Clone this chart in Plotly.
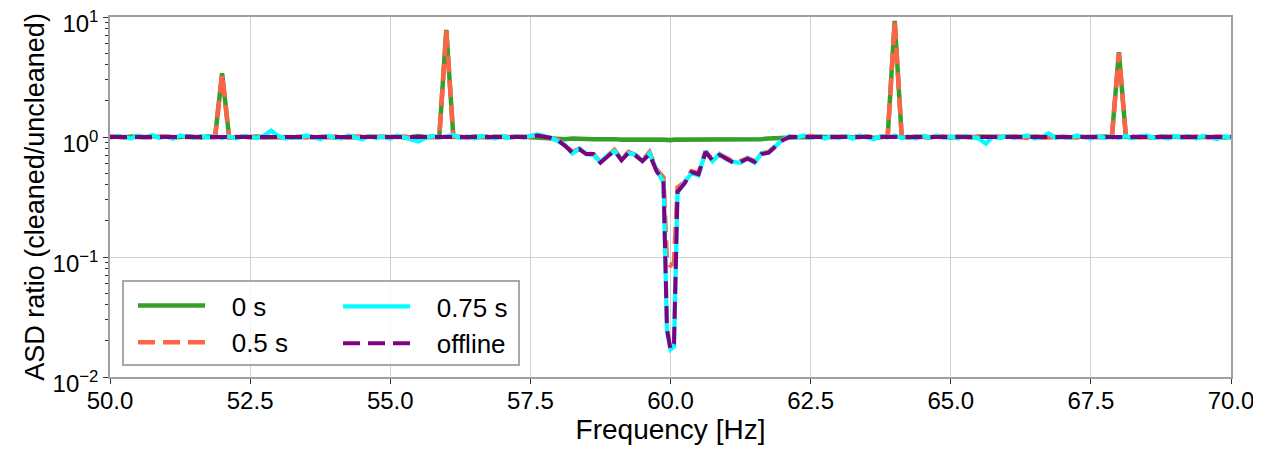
import plotly.graph_objects as go

freqs = [
    50.0, 50.125, 50.25, 50.375, 50.5, 50.625, 50.75, 50.875,
    51.0, 51.125, 51.25, 51.375, 51.5, 51.625, 51.75, 51.875,
    52.0, 52.125, 52.25, 52.375, 52.5, 52.625, 52.75, 52.875,
    53.0, 53.125, 53.25, 53.375, 53.5, 53.625, 53.75, 53.875,
    54.0, 54.125, 54.25, 54.375, 54.5, 54.625, 54.75, 54.875,
    55.0, 55.125, 55.25, 55.375, 55.5, 55.625, 55.75, 55.875,
    56.0, 56.125, 56.25, 56.375, 56.5, 56.625, 56.75, 56.875,
    57.0, 57.125, 57.25, 57.375, 57.5, 57.625, 57.75, 57.875,
    58.0, 58.125, 58.25, 58.375, 58.5, 58.625, 58.75, 58.875,
    59.0, 59.125, 59.25, 59.375, 59.5, 59.625, 59.75, 59.875, 59.9375,
    60.0, 60.0625, 60.125, 60.25, 60.375, 60.5, 60.625, 60.75, 60.875,
    61.0, 61.125, 61.25, 61.375, 61.5, 61.625, 61.75, 61.875,
    62.0, 62.125, 62.25, 62.375, 62.5, 62.625, 62.75, 62.875,
    63.0, 63.125, 63.25, 63.375, 63.5, 63.625, 63.75, 63.875,
    64.0, 64.125, 64.25, 64.375, 64.5, 64.625, 64.75, 64.875,
    65.0, 65.125, 65.25, 65.375, 65.5, 65.625, 65.75, 65.875,
    66.0, 66.125, 66.25, 66.375, 66.5, 66.625, 66.75, 66.875,
    67.0, 67.125, 67.25, 67.375, 67.5, 67.625, 67.75, 67.875,
    68.0, 68.125, 68.25, 68.375, 68.5, 68.625, 68.75, 68.875,
    69.0, 69.125, 69.25, 69.375, 69.5, 69.625, 69.75, 69.875,
    70.0,
]

ratio_0s = [
    1.00, 1.01, 0.99, 1.01, 1.00, 0.99, 1.02, 1.00,
    1.01, 0.99, 1.00, 1.02, 1.00, 0.99, 1.01, 1.00,
    3.40, 1.00, 0.99, 1.01, 1.00, 1.01, 0.99, 1.00,
    1.01, 1.00, 0.99, 1.00, 1.01, 0.99, 1.00, 1.01,
    0.99, 1.00, 1.01, 1.00, 0.99, 1.01, 1.00, 0.99,
    1.00, 1.01, 0.99, 1.00, 1.02, 1.00, 0.99, 1.00,
    7.80, 1.01, 1.00, 0.99, 1.01, 1.00, 0.99, 1.01,
    1.00, 0.99, 1.01, 1.00, 1.00, 0.99, 0.98, 0.97,
    0.97, 0.96, 0.97, 0.96, 0.97, 0.96, 0.96, 0.97,
    0.96, 0.95, 0.96, 0.95, 0.95, 0.96, 0.95, 0.95, 0.94,
    0.94, 0.95, 0.95, 0.94, 0.95, 0.96, 0.95, 0.94, 0.95,
    0.95, 0.96, 0.95, 0.96, 0.95, 0.96, 0.97, 0.98,
    0.99, 1.00, 1.01, 1.00, 0.99, 1.01, 1.00, 0.99,
    1.00, 1.01, 0.99, 1.00, 1.01, 0.98, 1.00, 1.01,
    9.30, 1.00, 0.99, 1.01, 1.00, 0.99, 1.01, 1.00,
    0.99, 1.01, 1.00, 0.99, 1.01, 1.00, 0.99, 1.00,
    1.01, 1.00, 0.99, 1.00, 1.01, 0.99, 1.00, 1.01,
    1.00, 0.99, 1.01, 1.00, 0.99, 1.00, 1.01, 1.00,
    5.10, 1.00, 0.99, 1.01, 1.00, 0.99, 1.01, 1.00,
    0.99, 1.00, 1.01, 0.99, 1.00, 1.01, 1.00, 0.99,
    1.00,
]

ratio_05s = [
    1.01, 1.00, 1.00, 0.99, 1.01, 1.00, 0.99, 1.01,
    1.00, 1.01, 0.99, 1.00, 1.01, 1.00, 0.99, 1.00,
    3.35, 0.99, 1.00, 1.01, 0.99, 1.00, 1.01, 1.00,
    1.00, 0.99, 1.01, 1.00, 0.99, 1.01, 1.00, 0.99,
    1.01, 1.00, 0.99, 1.01, 1.00, 0.99, 1.00, 1.01,
    0.99, 1.00, 1.01, 0.99, 1.00, 1.01, 1.00, 1.00,
    7.70, 1.00, 1.01, 1.00, 0.99, 1.00, 1.01, 0.99,
    1.01, 1.00, 0.99, 1.00, 1.01, 1.03, 1.01, 0.98,
    0.94, 0.85, 0.75, 0.80, 0.73, 0.72, 0.62, 0.70,
    0.78, 0.65, 0.75, 0.71, 0.64, 0.75, 0.54, 0.46, 0.09,
    0.085, 0.09, 0.38, 0.42, 0.52, 0.50, 0.76, 0.65, 0.72,
    0.67, 0.62, 0.63, 0.67, 0.63, 0.73, 0.75, 0.84,
    0.95, 1.00, 1.01, 1.00, 1.02, 1.01, 0.99, 1.00,
    1.00, 1.01, 0.99, 1.00, 1.01, 1.00, 0.99, 1.01,
    9.20, 1.01, 1.00, 0.99, 1.01, 1.00, 1.02, 1.00,
    1.00, 0.99, 1.01, 1.00, 0.99, 1.00, 1.01, 1.00,
    0.99, 1.01, 1.00, 0.98, 1.01, 1.00, 0.99, 1.01,
    1.00, 1.01, 0.99, 1.00, 1.01, 1.00, 0.99, 1.00,
    5.00, 1.00, 1.01, 0.99, 1.00, 1.01, 1.00, 0.99,
    1.01, 1.00, 0.99, 1.01, 1.00, 0.99, 1.01, 1.00,
    1.00,
]

ratio_075s = [
    0.98, 1.02, 1.00, 0.97, 1.03, 0.99, 1.04, 0.98,
    1.01, 0.97, 1.03, 1.00, 0.98, 1.02, 0.99, 1.01,
    0.98, 1.01, 0.97, 1.02, 1.00, 0.98, 1.03, 1.13,
    1.02, 0.97, 1.00, 0.98, 1.03, 0.99, 0.96, 1.02,
    1.00, 0.97, 1.03, 0.99, 0.96, 1.02, 0.98, 1.01,
    0.97, 1.03, 0.99, 0.96, 0.92, 0.98, 1.02, 0.99,
    1.01, 1.04, 0.98, 1.01, 0.97, 1.02, 1.00, 0.97,
    1.02, 0.98, 1.01, 0.99, 1.02, 1.05, 1.02, 0.98,
    0.92, 0.85, 0.73, 0.80, 0.72, 0.71, 0.62, 0.70,
    0.76, 0.65, 0.73, 0.71, 0.63, 0.73, 0.53, 0.42, 0.024,
    0.017, 0.018, 0.34, 0.42, 0.50, 0.48, 0.76, 0.63, 0.72,
    0.65, 0.62, 0.61, 0.67, 0.61, 0.73, 0.74, 0.84,
    0.95, 1.02, 0.99, 1.03, 0.98, 1.02, 0.97, 1.01,
    0.98, 1.02, 0.97, 1.03, 1.00, 0.96, 1.02, 0.99,
    1.03, 0.98, 1.01, 0.97, 1.02, 0.99, 1.03, 0.98,
    1.01, 0.97, 1.02, 0.99, 0.97, 0.88, 1.01, 0.98,
    1.02, 0.98, 1.01, 1.03, 0.97, 1.00, 1.07, 0.98,
    1.01, 0.98, 1.03, 0.99, 0.97, 1.02, 0.98, 1.01,
    0.98, 1.02, 0.97, 1.01, 1.03, 0.98, 1.00, 0.97,
    1.02, 0.98, 1.01, 0.97, 1.02, 0.99, 0.96, 1.01,
    0.99,
]

ratio_offline = [
    1.00, 1.00, 1.00, 1.00, 1.00, 1.00, 1.00, 1.00,
    1.00, 1.00, 1.00, 1.00, 1.00, 1.00, 1.00, 1.00,
    1.00, 1.00, 1.00, 1.00, 1.00, 1.00, 1.00, 1.00,
    1.00, 1.00, 1.00, 1.00, 1.00, 1.00, 1.00, 1.00,
    1.00, 1.00, 1.00, 1.00, 1.00, 1.00, 1.00, 1.00,
    1.00, 1.00, 1.00, 1.00, 1.00, 1.00, 1.00, 1.00,
    1.00, 1.00, 1.00, 1.00, 1.00, 1.00, 1.00, 1.00,
    1.00, 1.00, 1.00, 1.00, 1.00, 1.03, 1.01, 0.98,
    0.93, 0.84, 0.74, 0.79, 0.72, 0.72, 0.61, 0.69,
    0.77, 0.64, 0.74, 0.70, 0.63, 0.72, 0.52, 0.43, 0.025,
    0.017, 0.019, 0.35, 0.41, 0.51, 0.49, 0.75, 0.64, 0.71,
    0.66, 0.61, 0.62, 0.66, 0.62, 0.72, 0.74, 0.83,
    0.94, 1.00, 1.00, 1.01, 1.00, 1.00, 1.00, 1.00,
    1.00, 1.00, 1.00, 1.00, 1.00, 1.00, 1.00, 1.00,
    1.00, 1.00, 1.00, 1.00, 1.00, 1.00, 1.00, 1.00,
    1.00, 1.00, 1.00, 1.00, 1.00, 1.00, 1.00, 1.00,
    1.00, 1.00, 1.00, 1.00, 1.00, 1.00, 1.00, 1.00,
    1.00, 1.00, 1.00, 1.00, 1.00, 1.00, 1.00, 1.00,
    1.00, 1.00, 1.00, 1.00, 1.00, 1.00, 1.00, 1.00,
    1.00, 1.00, 1.00, 1.00, 1.00, 1.00, 1.00, 1.00,
    1.00,
]

series_names = ["0 s", "0.5 s", "0.75 s", "offline"]
x_tick_vals = [50.0, 52.5, 55.0, 57.5, 60.0, 62.5, 65.0, 67.5, 70.0]
y_tick_vals = [0.01, 0.1, 1, 10]
y_tick_text = ["10<sup>\u22122</sup>", "10<sup>\u22121</sup>", "10<sup>0</sup>", "10<sup>1</sup>"]
y_minor_vals = [m * d for d in (0.01, 0.1, 1) for m in range(2, 10)]

FONT = "Liberation Sans, Arial, Helvetica, sans-serif"
PAD = "\u00a0\u00a0\u00a0"

fig = go.Figure()
fig.add_trace(go.Scatter(x=freqs, y=ratio_0s, mode="lines", name=PAD + series_names[0],
                         line=dict(color="#33a02c", width=4.5), legend="legend", legendgroup="a"))
fig.add_trace(go.Scatter(x=freqs, y=ratio_05s, mode="lines", name=PAD + series_names[1],
                         line=dict(color="#ff6347", width=4.5, dash="17px,8px"), legend="legend", legendgroup="b"))
fig.add_trace(go.Scatter(x=freqs, y=ratio_075s, mode="lines", name=PAD + series_names[2],
                         line=dict(color="#00ffff", width=4.3), legend="legend2", legendgroup="c"))
fig.add_trace(go.Scatter(x=freqs, y=ratio_offline, mode="lines", name=PAD + series_names[3],
                         line=dict(color="#800080", width=4, dash="17px,8px"), legend="legend2", legendgroup="d"))

# page is rendered with an 8px body margin, so the figure is sized to fit
OFF = 8
W, H = 1253, 443
ml, mr, mt, mb = 102, 30, 9, 74
pw, ph = W - ml - mr, H - mt - mb

def px_x(p):  # page pixel -> paper fraction
    return (p - OFF - ml) / pw

def px_y(p):
    return (H - mb - (p - OFF)) / ph

legend_common = dict(
    font=dict(family=FONT, size=26, color="black"),
    bgcolor="rgba(0,0,0,0)", borderwidth=0,
    xanchor="left", yanchor="top", itemwidth=67,
    tracegroupgap=0, itemclick=False, itemdoubleclick=False,
)

fig.update_layout(
    width=W, height=H,
    margin=dict(l=ml, r=mr, t=mt, b=mb, autoexpand=False),
    paper_bgcolor="white", plot_bgcolor="white",
    font=dict(family=FONT, size=24, color="black"),
    legend=dict(x=px_x(133), y=px_y(282), **legend_common),
    legend2=dict(x=px_x(338), y=px_y(283), **legend_common),
    xaxis=dict(
        range=[50, 70], tickvals=x_tick_vals, tickformat=".1f",
        showgrid=True, gridcolor="#cfcfcf", gridwidth=1,
        showline=True, linecolor="#a0a0a0", linewidth=1.5, mirror=True,
        ticks="outside", ticklen=5, tickcolor="#333333", tickwidth=1,
        tickfont=dict(size=24), zeroline=False, automargin=False,
        ticklabelstandoff=-4,
        title=dict(text="Frequency [Hz]", font=dict(size=28), standoff=7),
    ),
    yaxis=dict(
        type="log", range=[-2, 1], tickvals=y_tick_vals, ticktext=y_tick_text,
        showgrid=True, gridcolor="#cfcfcf", gridwidth=1,
        showline=True, linecolor="#a0a0a0", linewidth=1.5, mirror=True,
        ticks="outside", ticklen=5, tickcolor="#333333", tickwidth=1,
        minor=dict(tickvals=y_minor_vals, ticks="outside", ticklen=3,
                   tickcolor="#333333", showgrid=False),
        tickfont=dict(size=24), zeroline=False, automargin=False,
        ticklabelshift=7, ticklabeloverflow="allow",
        title=dict(text="ASD ratio (cleaned/uncleaned)", font=dict(size=27), standoff=0),
    ),
    shapes=[dict(
        type="rect", xref="paper", yref="paper",
        x0=px_x(123), x1=px_x(519), y0=px_y(365), y1=px_y(281),
        line=dict(color="#a8a8a8", width=2), fillcolor="rgba(255,255,255,0.8)",
        layer="above",
    )],
)

fig.write_html("out.html")
